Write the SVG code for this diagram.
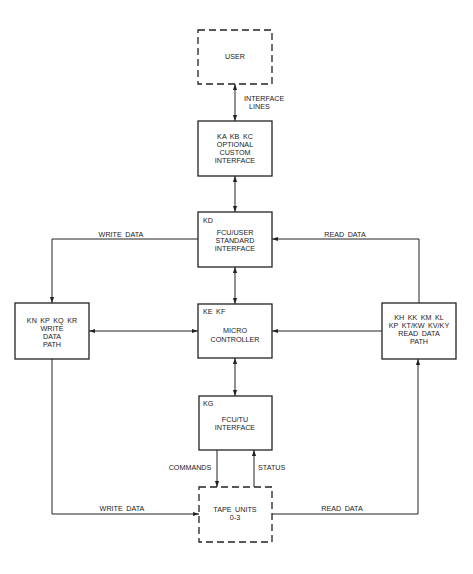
<svg xmlns="http://www.w3.org/2000/svg" width="473" height="574" viewBox="0 0 473 574">
<style>
.box{fill:#fff;stroke:#222;stroke-width:1.3}
.dash{fill:#fff;stroke:#222;stroke-width:1.3;stroke-dasharray:7 4}
.ln{fill:none;stroke:#222;stroke-width:1}
.t{font-family:"Liberation Sans",Arial,sans-serif;font-size:7.2px;fill:#222;text-anchor:middle;word-spacing:1.5px}
.l{text-anchor:start}
</style>
<defs>
<marker id="ah" viewBox="0 0 10 10" refX="10" refY="5" markerWidth="6" markerHeight="6" markerUnits="userSpaceOnUse" orient="auto-start-reverse">
<path d="M0,1.5 L10,5 L0,8.5 Z" fill="#222"/>
</marker>
</defs>
<rect width="473" height="574" fill="#fff"/>
<g id="connectors">
<line class="ln" x1="235" y1="84" x2="235" y2="121" marker-start="url(#ah)" marker-end="url(#ah)"/>
<line class="ln" x1="235" y1="176" x2="235" y2="212" marker-start="url(#ah)" marker-end="url(#ah)"/>
<line class="ln" x1="235" y1="267" x2="235" y2="304" marker-start="url(#ah)" marker-end="url(#ah)"/>
<line class="ln" x1="235" y1="358" x2="235" y2="396" marker-start="url(#ah)" marker-end="url(#ah)"/>
<line class="ln" x1="217" y1="450" x2="217" y2="487" marker-end="url(#ah)"/>
<line class="ln" x1="254" y1="487" x2="254" y2="450" marker-end="url(#ah)"/>
<path class="ln" d="M198,239 H52 V303" marker-end="url(#ah)"/>
<line class="ln" x1="89" y1="331" x2="198" y2="331" marker-start="url(#ah)" marker-end="url(#ah)"/>
<line class="ln" x1="382" y1="331" x2="272" y2="331" marker-end="url(#ah)"/>
<path class="ln" d="M419,303 V239 H272" marker-end="url(#ah)"/>
<path class="ln" d="M52,359 V514 H199" marker-end="url(#ah)"/>
<path class="ln" d="M272,514 H418 V359" marker-end="url(#ah)"/>
<text class="t l" x="244" y="101">INTERFACE</text>
<text class="t l" x="249" y="109">LINES</text>
<text class="t" x="121" y="237">WRITE DATA</text>
<text class="t" x="345" y="237">READ DATA</text>
<text class="t" x="190" y="470">COMMANDS</text>
<text class="t l" x="258" y="470">STATUS</text>
<text class="t" x="122" y="511">WRITE DATA</text>
<text class="t" x="342" y="511">READ DATA</text>
</g>
<g id="user">
<rect class="dash" x="198" y="30" width="74" height="54"/>
<text class="t" x="235" y="59">USER</text>
</g>
<g id="ka">
<rect class="box" x="198" y="121" width="74" height="55"/>
<text class="t" x="235" y="139">KA KB KC</text>
<text class="t" x="235" y="147">OPTIONAL</text>
<text class="t" x="235" y="155">CUSTOM</text>
<text class="t" x="235" y="163">INTERFACE</text>
</g>
<g id="kd">
<rect class="box" x="198" y="212" width="74" height="55"/>
<text class="t l" x="203" y="223">KD</text>
<text class="t" x="235" y="235">FCU/USER</text>
<text class="t" x="235" y="243">STANDARD</text>
<text class="t" x="235" y="251">INTERFACE</text>
</g>
<g id="ke">
<rect class="box" x="198" y="304" width="74" height="54"/>
<text class="t l" x="203" y="314">KE  KF</text>
<text class="t" x="235" y="333">MICRO</text>
<text class="t" x="235" y="342">CONTROLLER</text>
</g>
<g id="kg">
<rect class="box" x="199" y="396" width="73" height="54"/>
<text class="t l" x="203" y="406">KG</text>
<text class="t" x="235" y="422">FCU/TU</text>
<text class="t" x="235" y="430">INTERFACE</text>
</g>
<g id="tape">
<rect class="dash" x="199" y="487" width="73" height="55"/>
<text class="t" x="235" y="512">TAPE UNITS</text>
<text class="t" x="235" y="520">0-3</text>
</g>
<g id="write">
<rect class="box" x="15" y="303" width="74" height="56"/>
<text class="t" x="52" y="323">KN KP KQ KR</text>
<text class="t" x="52" y="331">WRITE</text>
<text class="t" x="52" y="339">DATA</text>
<text class="t" x="52" y="347">PATH</text>
</g>
<g id="read">
<rect class="box" x="382" y="303" width="74" height="56"/>
<text class="t" x="419" y="320">KH KK KM KL</text>
<text class="t" x="419" y="328">KP KT/KW KV/KY</text>
<text class="t" x="419" y="336">READ DATA</text>
<text class="t" x="419" y="344">PATH</text>
</g>
</svg>
